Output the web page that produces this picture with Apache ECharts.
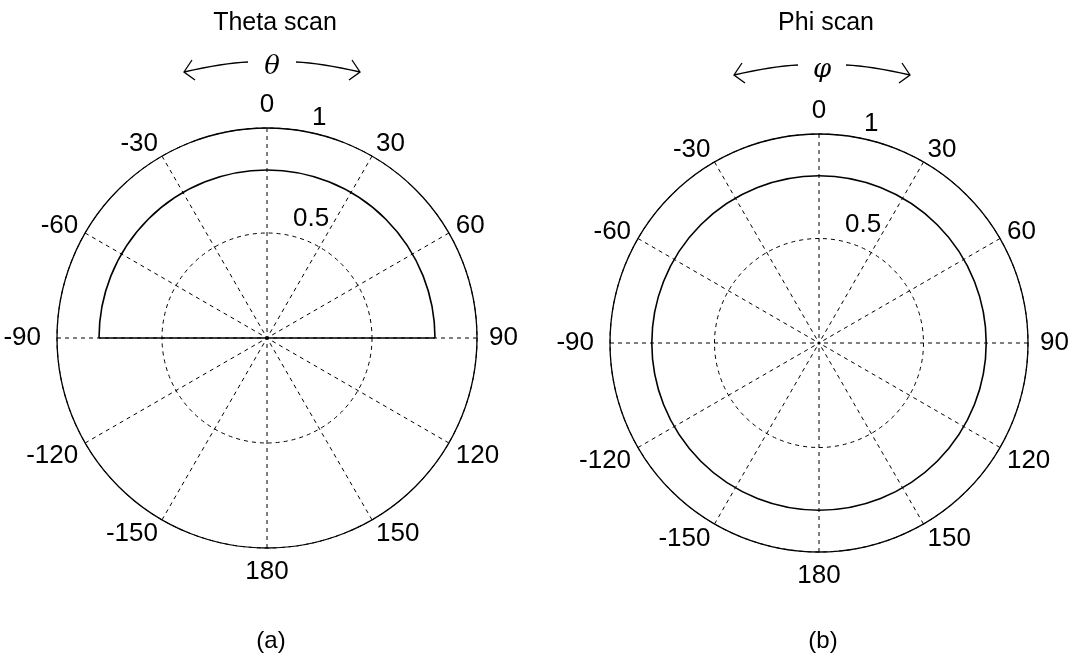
<!DOCTYPE html>
<html>
<head>
<meta charset="utf-8">
<script src="https://cdn.jsdelivr.net/npm/echarts@6/dist/echarts.min.js"></script>
<style>
  html, body { margin: 0; padding: 0; background: #fff; }
  #chart { width: 1075px; height: 660px; }
</style>
</head>
<body>
<div id="chart"></div>
<script>
// Scan patterns: each entry is [gain, start angle, end angle] in degrees
const thetaScan = [[0.8, -90, 90]];
const phiScan = [[0.8, -180, 180]];

// Axis ticks (angles measured clockwise from the top, shown as -150 .. 180)
const angleTicks = [0, 30, 60, 90, 120, 150, 180, 210, 240, 270, 300, 330, 360];
const radiusTicks = [0, 0.5, 1];

const titles = ['Theta scan', 'Phi scan'];
const captions = ['(a)', '(b)'];
const scanSymbols = ['\u03B8', '\u03C6'];

const FONT = "'Liberation Sans', Arial, sans-serif";
const LABEL_SIZE = 26;
const chart = echarts.init(document.getElementById('chart'));

// signed angle label for a tick value
const signed = v => (v > 180 ? v - 360 : v);

// line heights / paddings that set how far each angle label sits from the rim
const angleRich = {
  a0: { lineHeight: 30 },
  a30: { lineHeight: 10 },
  a60: { lineHeight: 6 },
  a90: { padding: [0, 0, 0, 4] },
  am90: { padding: [0, 8, 0, 0] },
  a120: { lineHeight: 18 },
  a150: { lineHeight: 15 },
  a180: { lineHeight: 32 }
};
// offsets for the radius labels
const radiusRich = {
  r05: { padding: [0, 0, 28, 0] },
  r1: { padding: [0, 0, 20, 19] }
};
[angleRich, radiusRich].forEach(g => Object.values(g).forEach(s =>
  Object.assign(s, { fontFamily: FONT, fontSize: LABEL_SIZE, color: '#000' })));

function angleLabel(v) {
  if (v === 360) return '';
  const s = signed(v);
  const key = s === -90 ? 'am90' : 'a' + Math.abs(s);
  return '{' + key + '|' + s + '}';
}

function angleAxis(idx) {
  return {
    polarIndex: idx,
    type: 'value',
    min: angleTicks[0],
    max: angleTicks[angleTicks.length - 1],
    interval: angleTicks[1] - angleTicks[0],
    startAngle: 90,
    clockwise: true,
    axisLine: { lineStyle: { color: '#000', width: 1.3 } },
    axisTick: { show: false },
    splitLine: { lineStyle: { color: '#000', type: [4, 4], width: 1 } },
    axisLabel: { margin: 8, formatter: angleLabel, rich: angleRich }
  };
}

function radiusAxis(idx) {
  return {
    polarIndex: idx,
    type: 'value',
    min: radiusTicks[0],
    max: radiusTicks[radiusTicks.length - 1],
    interval: radiusTicks[1] - radiusTicks[0],
    axisLine: { show: false },
    axisTick: { show: false },
    splitLine: { lineStyle: { color: '#000', type: [4, 4], width: 1 } },
    axisLabel: {
      margin: -26, align: 'left', verticalAlign: 'middle', rich: radiusRich,
      formatter: v => (v === 0 ? '' : v === 1 ? '{r1|1}' : '{r05|' + v + '}')
    }
  };
}

// Draws a constant-gain arc between two angles, closed by the chord between its ends
function renderArc(params, api) {
  const r = api.value(0), a0 = api.value(1), a1 = api.value(2);
  const c = api.coord([0, 0]);
  const p0 = api.coord([r, a0]);
  const p1 = api.coord([r, a1]);
  const pr = Math.hypot(p0[0] - c[0], p0[1] - c[1]);
  const toRad = a => (a - 90) * Math.PI / 180;
  const style = { stroke: '#000', lineWidth: 1.6, fill: null };
  return {
    type: 'group',
    children: [
      { type: 'arc', shape: { cx: c[0], cy: c[1], r: pr, startAngle: toRad(a0), endAngle: toRad(a1), clockwise: true }, style },
      { type: 'line', shape: { x1: p0[0], y1: p0[1], x2: p1[0], y2: p1[1] }, style },
      { type: 'circle', shape: { cx: c[0], cy: c[1], r: 1.6 }, style: { fill: '#000' } }
    ]
  };
}

// Curved double arrow with the scan symbol in the middle
function scanArrow(cx, y, half, symbol) {
  const s = { stroke: '#000', lineWidth: 1.3, fill: null };
  const gap = 24;
  return [
    { type: 'bezierCurve', shape: { x1: cx - gap, y1: y - 5, x2: cx - half, y2: y + 5, cpx1: cx - half * 0.55, cpy1: y - 4 }, style: s },
    { type: 'polyline', shape: { points: [[cx - half + 8, y - 7], [cx - half, y + 5], [cx - half + 11, y + 13]] }, style: s },
    { type: 'bezierCurve', shape: { x1: cx + gap, y1: y - 5, x2: cx + half, y2: y + 5, cpx1: cx + half * 0.55, cpy1: y - 4 }, style: s },
    { type: 'polyline', shape: { points: [[cx + half - 8, y - 7], [cx + half, y + 5], [cx + half - 11, y + 13]] }, style: s },
    { type: 'text', x: cx, y: y, style: { text: symbol, font: "italic 26px 'DejaVu Serif', serif", fill: '#000', align: 'center', verticalAlign: 'middle' } }
  ];
}

const centers = [[267, 338], [819, 343]];
const titleStyle = size => ({ fontFamily: FONT, fontSize: size, fontWeight: 'normal', color: '#000' });

chart.setOption({
  animation: false,
  backgroundColor: '#fff',
  title: [
    { text: titles[0], left: 270, top: 6, textAlign: 'center', textStyle: titleStyle(25) },
    { text: titles[1], left: 821, top: 6, textAlign: 'center', textStyle: titleStyle(25) },
    { text: captions[0], left: 266, top: 624, textAlign: 'center', textStyle: titleStyle(24) },
    { text: captions[1], left: 818, top: 624, textAlign: 'center', textStyle: titleStyle(24) }
  ],
  polar: [
    { center: centers[0], radius: 210 },
    { center: centers[1], radius: 209 }
  ],
  angleAxis: [angleAxis(0), angleAxis(1)],
  radiusAxis: [radiusAxis(0), radiusAxis(1)],
  series: [
    { type: 'custom', coordinateSystem: 'polar', polarIndex: 0, data: thetaScan, renderItem: renderArc, silent: true },
    { type: 'custom', coordinateSystem: 'polar', polarIndex: 1, data: phiScan, renderItem: renderArc, silent: true }
  ],
  graphic: [
    ...scanArrow(272, 67, 88, scanSymbols[0]),
    ...scanArrow(822, 70, 88, scanSymbols[1])
  ]
});
</script>
</body>
</html>
